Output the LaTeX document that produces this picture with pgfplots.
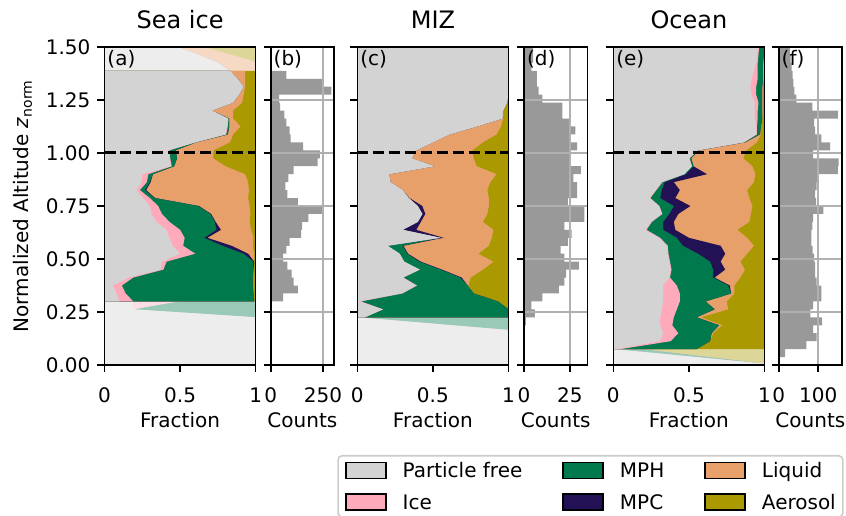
\documentclass[border=0pt]{standalone}
\usepackage{fontspec}
\setmainfont{DejaVu Sans}
\usepackage{pgfplots}
\usepackage{pgfplotstable}
\pgfplotsset{compat=1.18}

\definecolor{cpf}{HTML}{D3D3D3}
\definecolor{cice}{HTML}{FFAABB}
\definecolor{cmph}{HTML}{007A4D}
\definecolor{cmpc}{HTML}{221155}
\definecolor{cliq}{HTML}{E8A06B}
\definecolor{caer}{HTML}{AA9900}
\definecolor{lpf}{HTML}{EDEDED}
\definecolor{lice}{HTML}{FFDDE4}
\definecolor{lmph}{HTML}{99CAB8}
\definecolor{lmpc}{HTML}{A7A0BB}
\definecolor{lliq}{HTML}{F6D9C4}
\definecolor{laer}{HTML}{DDD699}
\definecolor{hist}{HTML}{999999}
\definecolor{gridc}{HTML}{B0B0B0}
\definecolor{legc}{HTML}{CCCCCC}

% ---------- Sea ice: cumulative class boundaries (fraction) vs z ----------
\pgfplotstableread{
z pf ice mph mpc liq one
0.3 0 0 0 0 0 0
0.3000 0.10 0.19 0.99 0.99 0.99 1
0.3375 0.08 0.14 0.985 0.985 0.985 1
0.3750 0.055 0.115 0.98 0.98 0.98 1
0.4125 0.16 0.19 0.98 0.98 0.98 1
0.4500 0.37 0.39 0.985 0.985 0.985 1
0.4875 0.38 0.41 0.985 0.99 0.99 1
0.5250 0.50 0.60 0.92 0.95 0.99 1
0.5625 0.45 0.52 0.78 0.84 0.98 1
0.6000 0.43 0.53 0.66 0.68 0.985 1
0.6375 0.41 0.50 0.74 0.77 0.97 1
0.6750 0.345 0.43 0.73 0.735 0.96 1
0.7125 0.31 0.38 0.70 0.705 0.965 1
0.7500 0.30 0.355 0.62 0.625 0.96 1
0.7875 0.255 0.30 0.33 0.335 0.95 1
0.8250 0.21 0.234 0.267 0.275 0.955 1
0.8625 0.245 0.28 0.30 0.305 0.95 1
0.9000 0.25 0.29 0.32 0.32 0.93 1
0.9375 0.44 0.445 0.46 0.46 0.80 1
0.9750 0.43 0.435 0.48 0.48 0.72 1
1.0125 0.42 0.43 0.47 0.47 0.72 1
1.0500 0.60 0.60 0.605 0.605 0.83 1
1.0875 0.80 0.805 0.815 0.815 0.85 1
1.1250 0.81 0.815 0.825 0.825 0.90 1
1.1625 0.815 0.82 0.825 0.825 0.85 1
1.2000 0.71 0.71 0.71 0.71 0.85 1
1.2375 0.85 0.85 0.85 0.85 0.91 1
1.2750 0.89 0.89 0.89 0.89 0.92 1
1.3125 0.92 0.92 0.92 0.92 0.93 1
1.3500 0.88 0.88 0.88 0.88 0.93 1
1.3875 0.83 0.83 0.83 0.83 0.93 1
1.3875 0 0 0 0 0 0
}\tAm
\pgfplotstableread{
z pf ice mph mpc liq one
0 0 0 0 0 0 0
0 1 1 1 1 1 1
0.225 1 1 1 1 1 1
0.2625 0.19 0.19 1 1 1 1
0.3 0.19 0.49 1 1 1 1
0.3 0 0 0 0 0 0
}\tAlb
\pgfplotstableread{
z pf ice mph mpc liq one
1.3875 0 0 0 0 0 0
1.3875 0.83 0.83 0.83 0.83 1 1
1.43 0.74 0.74 0.74 0.74 1 1
1.5 0.49 0.49 0.49 0.49 0.66 1
1.5 0 0 0 0 0 0
}\tAlt

% ---------- MIZ ----------
\pgfplotstableread{
z pf ice mph mpc liq one
0.225 0 0 0 0 0 0
0.2250 0.05 0.05 1.0 1.0 1.0 1
0.2625 0.17 0.17 1.0 1.0 1.0 1
0.3000 0.01 0.025 0.93 0.93 0.93 1
0.3375 0.29 0.30 0.77 0.77 0.77 1
0.3750 0.39 0.395 0.73 0.73 0.735 1
0.4125 0.30 0.305 0.68 0.69 0.75 1
0.4500 0.41 0.415 0.55 0.56 0.83 1
0.4875 0.31 0.31 0.41 0.42 0.90 1
0.5250 0.28 0.28 0.33 0.335 0.80 1
0.5625 0.20 0.20 0.30 0.305 0.87 1
0.6000 0.55 0.55 0.55 0.57 0.89 1
0.6375 0.30 0.30 0.30 0.39 0.90 1
0.6750 0.40 0.40 0.40 0.42 0.83 1
0.7125 0.43 0.43 0.43 0.45 0.86 1
0.7500 0.40 0.40 0.40 0.43 0.87 1
0.7875 0.34 0.34 0.34 0.345 0.87 1
0.8250 0.30 0.30 0.30 0.30 0.86 1
0.8625 0.22 0.22 0.22 0.22 0.88 1
0.9000 0.21 0.21 0.21 0.21 0.92 1
0.9375 0.51 0.51 0.51 0.51 0.79 1
0.9750 0.36 0.36 0.36 0.36 0.77 1
1.0125 0.39 0.39 0.39 0.39 0.76 1
1.0500 0.50 0.50 0.50 0.50 0.83 1
1.0875 0.61 0.61 0.61 0.61 0.92 1
1.1250 0.79 0.79 0.79 0.79 0.95 1
1.1625 0.96 0.96 0.96 0.96 0.965 1
1.2000 0.965 0.965 0.965 0.965 0.965 1
1.2375 0.99 0.99 0.99 0.99 0.99 1
1.2750 1 1 1 1 1 1
1.5000 1 1 1 1 1 1
1.5 0 0 0 0 0 0
}\tCm
\pgfplotstableread{
z pf ice mph mpc liq one
0 0 0 0 0 0 0
0 1 1 1 1 1 1
0.165 1 1 1 1 1 1
0.225 0 0 1 1 1 1
0.225 0 0 0 0 0 0
}\tCl

% ---------- Ocean ----------
\pgfplotstableread{
z pf ice mph mpc liq one
0.075 0 0 0 0 0 0
0.0750 0.02 0.05 0.55 0.55 0.55 1
0.1125 0.31 0.38 0.64 0.64 0.64 1
0.1500 0.33 0.43 0.65 0.65 0.66 1
0.1875 0.31 0.39 0.70 0.70 0.72 1
0.2250 0.31 0.40 0.55 0.55 0.58 1
0.2625 0.32 0.42 0.67 0.67 0.76 1
0.3000 0.33 0.44 0.61 0.61 0.75 1
0.3375 0.33 0.44 0.78 0.78 0.80 1
0.3750 0.33 0.42 0.76 0.77 0.80 1
0.4125 0.37 0.375 0.66 0.67 0.84 1
0.4500 0.38 0.385 0.66 0.74 0.87 1
0.4875 0.37 0.375 0.64 0.71 0.84 1
0.5250 0.36 0.365 0.56 0.74 0.885 1
0.5625 0.355 0.36 0.46 0.71 0.93 1
0.6000 0.30 0.31 0.42 0.50 0.885 1
0.6375 0.21 0.22 0.33 0.41 0.82 1
0.6750 0.25 0.255 0.33 0.40 0.90 1
0.7125 0.32 0.325 0.37 0.43 0.91 1
0.7500 0.30 0.305 0.40 0.51 0.92 1
0.7875 0.24 0.245 0.31 0.41 0.90 1
0.8250 0.28 0.285 0.32 0.44 0.885 1
0.8625 0.32 0.325 0.34 0.40 0.93 1
0.9000 0.47 0.47 0.48 0.62 0.94 1
0.9375 0.52 0.52 0.53 0.53 0.92 1
0.9750 0.50 0.505 0.515 0.515 0.86 1
1.0125 0.56 0.56 0.565 0.565 0.88 1
1.0500 0.86 0.865 0.87 0.87 0.95 1
1.0875 0.945 0.95 0.97 0.97 0.975 1
1.1250 0.945 0.95 0.975 0.975 0.975 1
1.1625 0.935 0.955 0.985 0.985 0.985 1
1.2000 0.935 0.955 0.985 0.985 0.99 1
1.2375 0.935 0.96 0.985 0.985 0.99 1
1.2750 0.915 0.945 0.985 0.985 0.99 1
1.3125 0.905 0.945 0.985 0.985 0.99 1
1.3500 0.915 0.955 0.99 0.99 0.995 1
1.3875 0.93 0.955 0.99 0.99 0.995 1
1.4250 0.945 0.955 0.99 0.99 0.995 1
1.4625 0.95 0.96 0.995 0.995 0.995 1
1.5000 0.955 0.965 0.995 0.995 0.995 1
1.5 0 0 0 0 0 0
}\tEm
\pgfplotstableread{
z pf ice mph mpc liq one
0 0 0 0 0 0 0
0 1 1 1 1 1 1
0.006 1 1 1 1 1 1
0.075 0.0 0.0 0.18 0.18 0.18 1
0.075 0 0 0 0 0 0
}\tEl

% ---------- Counts (bin centres, bin width 0.0375) ----------
\pgfplotstableread{
z c
0.31875 60
0.35625 130
0.39375 110
0.43125 100
0.46875 80
0.50625 60
0.54375 75
0.58125 90
0.61875 145
0.65625 150
0.69375 180
0.73125 245
0.76875 130
0.80625 80
0.84375 70
0.88125 85
0.91875 110
0.95625 225
0.99375 235
1.03125 155
1.06875 95
1.10625 90
1.14375 75
1.18125 65
1.21875 45
1.25625 40
1.29375 290
1.33125 245
1.36875 75
}\tB
\pgfplotstableread{
z c
0.20625 1
0.24375 6
0.28125 4
0.31875 10
0.35625 19
0.39375 22
0.43125 23
0.46875 30
0.50625 22
0.54375 20
0.58125 24
0.61875 26
0.65625 22
0.69375 33
0.73125 33
0.76875 24
0.80625 29
0.84375 29
0.88125 27
0.91875 31
0.95625 25
0.99375 25
1.03125 29
1.06875 25
1.10625 28
1.14375 25
1.18125 21
1.21875 21
1.25625 10
1.29375 8
1.33125 7
1.36875 7
1.40625 4
1.44375 5
1.48125 5
}\tD
\pgfplotstableread{
z c
0.05625 16
0.09375 70
0.13125 96
0.16875 87
0.20625 110
0.24375 80
0.28125 87
0.31875 108
0.35625 108
0.39375 96
0.43125 92
0.46875 92
0.50625 90
0.54375 86
0.58125 83
0.61875 83
0.65625 85
0.69375 87
0.73125 113
0.76875 95
0.80625 92
0.84375 96
0.88125 97
0.91875 150
0.95625 152
0.99375 87
1.03125 130
1.06875 108
1.10625 92
1.14375 90
1.18125 150
1.21875 85
1.25625 45
1.29375 40
1.33125 37
1.36875 35
1.40625 33
1.44375 30
1.48125 28
}\tF

\newcommand{\layers}[2]{%
  \addplot[fill=#2aer, draw=none] table[x=one, y=z] {#1};
  \addplot[fill=#2liq, draw=none] table[x=liq, y=z] {#1};
  \addplot[fill=#2mpc, draw=none] table[x=mpc, y=z] {#1};
  \addplot[fill=#2mph, draw=none] table[x=mph, y=z] {#1};
  \addplot[fill=#2ice, draw=none] table[x=ice, y=z] {#1};
  \addplot[fill=#2pf, draw=none] table[x=pf, y=z] {#1};
}

\pgfplotsset{
  myaxis/.style={
    scale only axis, height=159pt, ymin=0, ymax=1.5,
    anchor=south west, axis on top,
    ytick={0,0.25,0.5,0.75,1,1.25,1.5},
    tick align=outside, major tick length=3.5pt,
    xtick pos=bottom, ytick pos=left,
    axis line style={line width=0.8pt},
    every tick/.style={black, line width=0.8pt},
    tick label style={font=\fontsize{10}{12}\selectfont},
    /pgf/number format/assume math mode=true,
    label style={font=\fontsize{10}{12}\selectfont},
    xticklabel style={anchor=base, yshift=-15pt},
    xlabel style={at={(axis description cs:0.5,0)}, anchor=base, yshift=-31pt},
    title style={font=\fontsize{12}{14}\selectfont, at={(axis description cs:0.5,1)}, anchor=base, yshift=3pt},
  },
  frac/.style={myaxis, width=75.6pt, xmin=0, xmax=1,
    xtick={0,0.5,1}, xticklabels={0,0.5,1}, xlabel={Fraction}, yticklabels={}},
  cnt/.style={myaxis, width=31.7pt, xmin=0, yticklabels={},
    grid=major, grid style={gridc, line width=0.8pt}, xlabel={Counts}},
}

\begin{document}
\begin{tikzpicture}
\useasboundingbox (0,0) rectangle (423pt,257.5pt);

% (a)
\begin{axis}[frac, at={(52.25pt,75pt)}, title={Sea ice},
  yticklabels={0.00,0.25,0.50,0.75,1.00,1.25,1.50},
  ylabel={Normalized Altitude \textit{z}\textsubscript{norm}},
  ylabel style={at={(axis description cs:-0.5,0.5)}, anchor=base}]
  \layers{\tAlb}{l}
  \layers{\tAlt}{l}
  \layers{\tAm}{c}
  \addplot[black, line width=1.5pt, dash pattern=on 5.55pt off 2.4pt] coordinates {(0,1) (1,1)};
  \node[anchor=north west, inner sep=0pt, xshift=1.3pt, yshift=-1.5pt, font=\fontsize{10}{12}\selectfont] at (rel axis cs:0,1) {(a)};
\end{axis}

% (b)
\begin{axis}[cnt, at={(135.35pt,75pt)}, xmax=303.3, xtick={0,250}, xticklabels={0,250}]
  \addplot[xbar, bar width=0.0375, fill=hist, draw=none] table[x=c, y=z] {\tB};
  \node[anchor=north west, inner sep=0pt, xshift=1.3pt, yshift=-1.5pt, font=\fontsize{10}{12}\selectfont] at (rel axis cs:0,1) {(b)};
\end{axis}

% (c)
\begin{axis}[frac, at={(178.65pt,75pt)}, title={MIZ}]
  \layers{\tCl}{l}
  \layers{\tCm}{c}
  \addplot[black, line width=1.5pt, dash pattern=on 5.55pt off 2.4pt] coordinates {(0,1) (1,1)};
  \node[anchor=north west, inner sep=0pt, xshift=1.3pt, yshift=-1.5pt, font=\fontsize{10}{12}\selectfont] at (rel axis cs:0,1) {(c)};
\end{axis}

% (d)
\begin{axis}[cnt, at={(262pt,75pt)}, xmax=34.6, xtick={0,25}, xticklabels={0,25}]
  \addplot[xbar, bar width=0.0375, fill=hist, draw=none] table[x=c, y=z] {\tD};
  \node[anchor=north west, inner sep=0pt, xshift=1.3pt, yshift=-1.5pt, font=\fontsize{10}{12}\selectfont] at (rel axis cs:0,1) {(d)};
\end{axis}

% (e)
\begin{axis}[frac, at={(306.65pt,75pt)}, title={Ocean}]
  \layers{\tEl}{l}
  \layers{\tEm}{c}
  \addplot[black, line width=1.5pt, dash pattern=on 5.55pt off 2.4pt] coordinates {(0,1) (1,1)};
  \node[anchor=north west, inner sep=0pt, xshift=1.3pt, yshift=-1.5pt, font=\fontsize{10}{12}\selectfont] at (rel axis cs:0,1) {(e)};
\end{axis}

% (f) + legend
\begin{axis}[cnt, at={(389.35pt,75pt)}, xmax=160.6, xtick={0,100}, xticklabels={0,100},
  legend columns=3, legend cell align=left,
  legend image code/.code={\fill[#1, sharp corners] (0pt,-4.25pt) rectangle (20pt,3.75pt);},
  legend style={at={(axis description cs:1.0236,-0.283)}, anchor=north east,
    draw=legc, line width=0.8pt, rounded corners=2pt, fill=white,
    inner xsep=3.5pt, inner ysep=3pt,
    font=\fontsize{10}{12}\selectfont,
    nodes={inner sep=0pt, text height=7.5pt, text depth=0pt},
    row sep=7pt,
    /tikz/every odd column/.append style={column sep=8pt},
    /tikz/every even column/.append style={column sep=20pt}}]
  \addplot[xbar, bar width=0.0375, fill=hist, draw=none, forget plot] table[x=c, y=z] {\tF};
  \node[anchor=north west, inner sep=0pt, xshift=1.3pt, yshift=-1.5pt, font=\fontsize{10}{12}\selectfont] at (rel axis cs:0,1) {(f)};
  \addlegendimage{fill=cpf}\addlegendentry{Particle free}
  \addlegendimage{fill=cmph}\addlegendentry{MPH}
  \addlegendimage{fill=cliq}\addlegendentry{Liquid}
  \addlegendimage{fill=cice}\addlegendentry{Ice}
  \addlegendimage{fill=cmpc}\addlegendentry{MPC}
  \addlegendimage{fill=caer}\addlegendentry{Aerosol}
\end{axis}
\end{tikzpicture}
\end{document}
